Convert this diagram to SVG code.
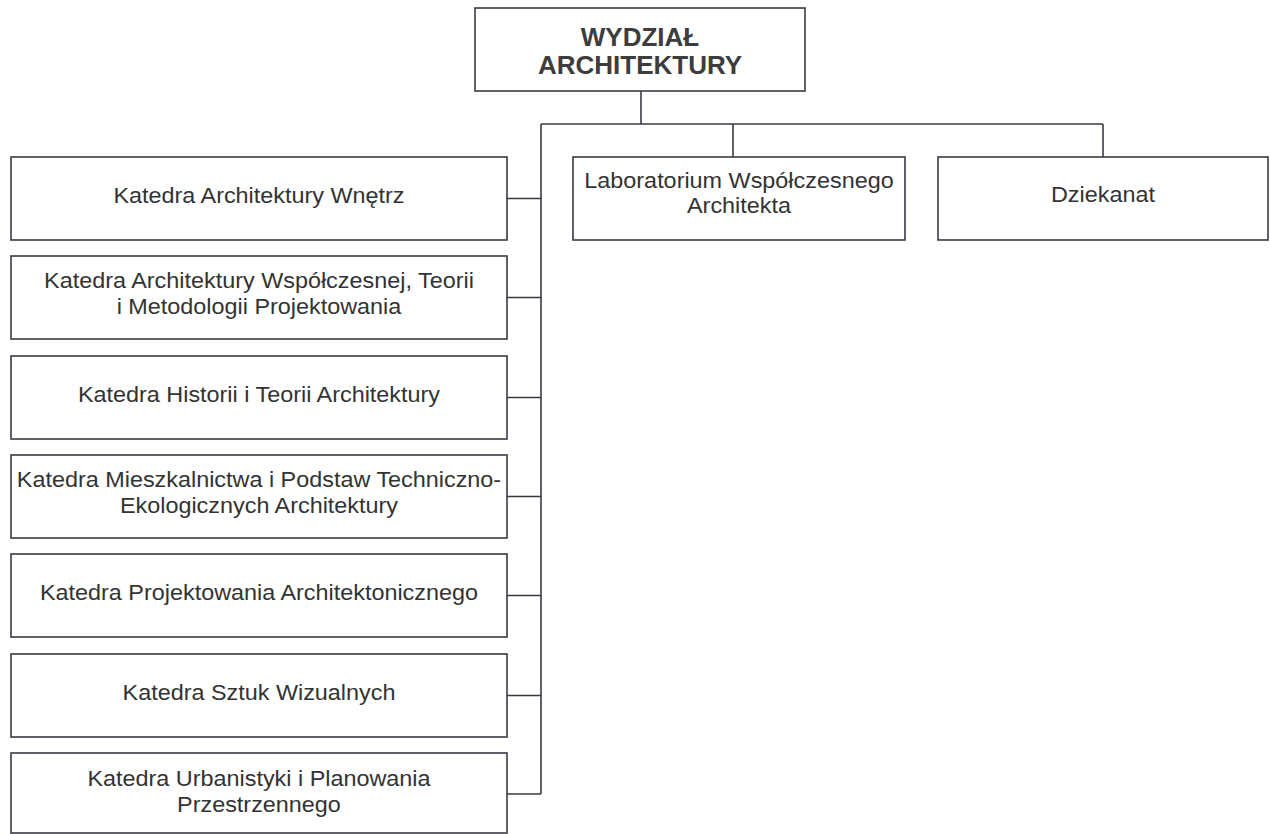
<svg xmlns="http://www.w3.org/2000/svg" width="1270" height="834" viewBox="0 0 1270 834">
  <style>
    .box { fill: #ffffff; stroke: #3a3a44; stroke-width: 1.6; }
    .wire { fill: none; stroke: #3a3a44; stroke-width: 1.6; }
    .lbl { font-family: "Liberation Sans", Arial, sans-serif; font-size: 22.5px; fill: #333333; text-anchor: middle;
           transform-box: fill-box; transform-origin: center; transform: scaleX(1.04); }
    .head { font-family: "Liberation Sans", Arial, sans-serif; font-size: 26px; font-weight: bold; fill: #3d3d3d; text-anchor: middle; }
  </style>
  <rect width="1270" height="834" fill="#ffffff"/>

  <!-- connectors -->
  <g id="connectors">
    <line class="wire" x1="641" y1="91" x2="641" y2="124"/>
    <line class="wire" x1="541" y1="124" x2="1103" y2="124"/>
    <line class="wire" x1="733" y1="124" x2="733" y2="157"/>
    <line class="wire" x1="1103" y1="124" x2="1103" y2="157"/>
    <line class="wire" x1="541" y1="124" x2="541" y2="794"/>
    <line class="wire" x1="507" y1="198.5" x2="541" y2="198.5"/>
    <line class="wire" x1="507" y1="297.5" x2="541" y2="297.5"/>
    <line class="wire" x1="507" y1="397.5" x2="541" y2="397.5"/>
    <line class="wire" x1="507" y1="496.5" x2="541" y2="496.5"/>
    <line class="wire" x1="507" y1="595.5" x2="541" y2="595.5"/>
    <line class="wire" x1="507" y1="695.5" x2="541" y2="695.5"/>
    <line class="wire" x1="507" y1="794" x2="541" y2="794"/>
  </g>

  <!-- faculty -->
  <g id="wydzial">
    <rect class="box" x="475" y="8" width="330" height="83"/>
    <text class="head" x="640" y="46">WYDZIAŁ</text>
    <text class="head" x="640" y="74">ARCHITEKTURY</text>
  </g>

  <!-- top-row units -->
  <g id="laboratorium">
    <rect class="box" x="573" y="157" width="332" height="83"/>
    <text class="lbl" x="739" y="188">Laboratorium Współczesnego</text>
    <text class="lbl" x="739" y="213">Architekta</text>
  </g>
  <g id="dziekanat">
    <rect class="box" x="938" y="157" width="330" height="83"/>
    <text class="lbl" x="1103" y="202">Dziekanat</text>
  </g>

  <!-- departments -->
  <g id="katedra-wnetrz">
    <rect class="box" x="11" y="157" width="496" height="83"/>
    <text class="lbl" x="259" y="203">Katedra Architektury Wnętrz</text>
  </g>
  <g id="katedra-wspolczesnej">
    <rect class="box" x="11" y="256" width="496" height="83"/>
    <text class="lbl" x="259" y="288">Katedra Architektury Współczesnej, Teorii</text>
    <text class="lbl" x="259" y="314">i Metodologii Projektowania</text>
  </g>
  <g id="katedra-historii">
    <rect class="box" x="11" y="356" width="496" height="83"/>
    <text class="lbl" x="259" y="402">Katedra Historii i Teorii Architektury</text>
  </g>
  <g id="katedra-mieszkalnictwa">
    <rect class="box" x="11" y="455" width="496" height="83"/>
    <text class="lbl" x="259" y="487">Katedra Mieszkalnictwa i Podstaw Techniczno-</text>
    <text class="lbl" x="259" y="513">Ekologicznych Architektury</text>
  </g>
  <g id="katedra-projektowania">
    <rect class="box" x="11" y="554" width="496" height="83"/>
    <text class="lbl" x="259" y="600">Katedra Projektowania Architektonicznego</text>
  </g>
  <g id="katedra-sztuk">
    <rect class="box" x="11" y="654" width="496" height="83"/>
    <text class="lbl" x="259" y="700">Katedra Sztuk Wizualnych</text>
  </g>
  <g id="katedra-urbanistyki">
    <rect class="box" x="11" y="753" width="496" height="80"/>
    <text class="lbl" x="259" y="786">Katedra Urbanistyki i Planowania</text>
    <text class="lbl" x="259" y="812">Przestrzennego</text>
  </g>
</svg>
